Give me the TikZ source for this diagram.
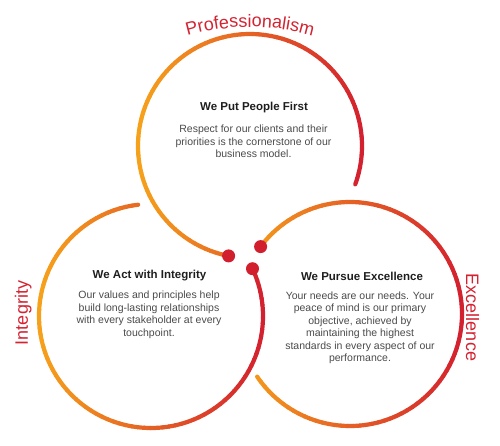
\documentclass[tikz,border=0pt]{standalone}
\usepackage{fontspec}
\setmainfont{Liberation Sans}
\usetikzlibrary{decorations.text}

\definecolor{ringorange}{HTML}{F6A11B}
\definecolor{ringred}{HTML}{D3202F}
\definecolor{dotred}{HTML}{D21F2E}
\definecolor{labelred}{HTML}{D42231}
\definecolor{headgray}{HTML}{1E1E1E}
\definecolor{bodygray}{HTML}{4A4A4A}

\begin{document}
\begin{tikzpicture}[x=1pt, y=1pt,
  ringline/.style={line width=4.2pt, line cap=round},
  ringdot/.style={circle, fill=dotred, inner sep=0pt, minimum size=13pt},
  headtext/.style={font=\fontsize{11.5}{14}\selectfont\bfseries, text=headgray},
  bodytext/.style={font=\fontsize{10.5}{12.5}\selectfont, text=bodygray, align=center},
  ringlabel/.style={font=\fontsize{18}{20}\selectfont, text=labelred}]
            \useasboundingbox (0,0) rectangle (500,445);

            % the three rings, orange on the left going red on the right
            \foreach \cx/\cy/\from/\to in {250/299/-20/259, 151/129/96.6/385, 350/131/-146/143}{
                \pgfmathsetmacro\d{(\to-\from)/90}
                \foreach \i in {0,...,89}{
                    \pgfmathsetmacro\a{\from+\i*\d}
                    \pgfmathtruncatemacro\p{50+50*cos(\a+\d/2)}
                    \draw[ringline, draw=ringred!\p!ringorange] (\cx,\cy) ++(\a:112pt)
                        arc[start angle=\a, delta angle=\d, radius=112pt];
                }
            }

            \node[ringdot] (d1) at (228.6,189.1) {};
            \node[ringdot] (d2) at (260.6,198.4) {};
            \node[ringdot] (d3) at (252.5,176.3) {};

            % ring names
            \path[decorate, decoration={text along path, text align=center,
                text={|\fontsize{18}{20}\selectfont\color{labelred}|Professionalism}}]
                (250,193) ++(110:225pt) arc[start angle=110, end angle=70, radius=225pt];
            \node[ringlabel, rotate=90, anchor=base] (integrity) at (28,132) {Integrity};
            \node[ringlabel, rotate=-90, anchor=base] (excellence) at (466,127.5) {Excellence};

            % texts
            \node[headtext] (h1) at (254,337) {We Put People First};
            \node[bodytext] (b1) at (253.5,303.3) {Respect for our clients and their\\priorities is the cornerstone of our\\business model.};
            \node[headtext] (h2) at (149.5,169) {We Act with Integrity};
            \node[bodytext] (b2) at (149,130) {Our values and principles help\\build long-lasting relationships\\with every stakeholder at every\\touchpoint.};
            \node[headtext] (h3) at (362,169) {We Pursue Excellence};
            \node[bodytext] (b3) at (360,117) {Your needs are our needs. Your\\peace of mind is our primary\\objective, achieved by\\maintaining the highest\\standards in every aspect of our\\performance.};
        \end{tikzpicture}
\end{document}
